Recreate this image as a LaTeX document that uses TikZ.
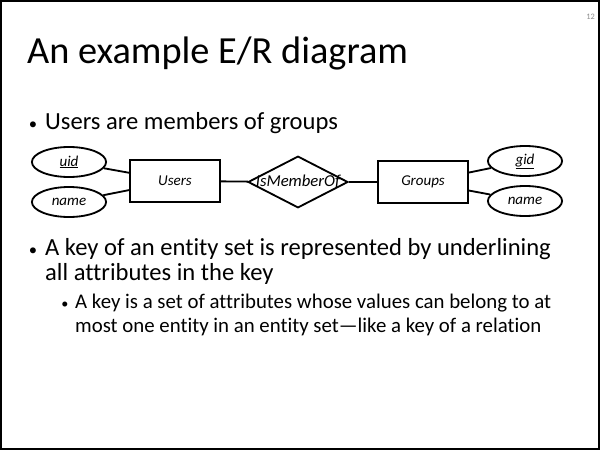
\documentclass[tikz,border=0pt]{standalone}
\usepackage{fontspec}
\setmainfont{Carlito}[Ligatures={TeX,NoCommon}]
\usetikzlibrary{shapes.geometric}
\usetikzlibrary{positioning}

\tikzset{
  attr/.style={draw, ellipse, line width=2.2pt, minimum width=89pt, minimum height=36pt, inner sep=0pt, font=\fontsize{18}{20}\selectfont\itshape},
  entity/.style={draw, rectangle, line width=2.2pt, minimum width=108pt, minimum height=50pt, font=\fontsize{18}{20}\selectfont\itshape},
  relation/.style={draw, diamond, line width=2.2pt, minimum width=120pt, minimum height=62pt, inner sep=0pt},
  link/.style={line width=2.2pt},
  bodytext/.style={anchor=base west, inner sep=0pt, font=\fontsize{29.5}{35}\selectfont},
  subtext/.style={anchor=base west, inner sep=0pt, font=\fontsize{25}{30}\selectfont},
  dot/.style={anchor=base, inner sep=0pt, font=\fontsize{20}{24}\selectfont},
}

\begin{document}
\begin{tikzpicture}[x=1.2pt, y=-1.2pt]

\useasboundingbox (0,0) rectangle (600,450);
\draw[line width=2.4pt] (1,1) rectangle (599,449);

% page number and title
\node[anchor=base east, inner sep=0pt, font=\fontsize{10}{12}\selectfont, text=black!45] (pageno) at (595,20) {12};
\node[anchor=base west, inner sep=0pt, font=\fontsize{46}{55}\selectfont] (title) at (27,64) {An example E/R diagram};

% first bullet
\node[dot] (dotA) at (33,129) {•};
\node[bodytext] (lineA) at (45,129) {Users are members of groups};

% E/R diagram
\node[entity] (users) at (175,181) {Users};
\node[relation, label={[font=\fontsize{20}{22}\selectfont\itshape]center:IsMemberOf}] (member) at (298,182) {};
\node[entity] (groups) at (423,182) {Groups};

\node[attr] (uid) at (69,162) {\underline{uid}};
\node[attr] (uname) at (69,202) {name};
\node[attr] (gid) at (525,161) {\underline{gid}};
\node[attr] (gname) at (525,201) {name};

\draw[link] (uid) -- (users);
\draw[link] (uname) -- (users);
\draw[link] (users) -- (member);
\draw[link] (member) -- (groups);
\draw[link] (groups) -- (gid);
\draw[link] (groups) -- (gname);

% second bullet
\node[dot] (dotB) at (33,255) {•};
\node[bodytext] (lineB1) at (45,255) {A key of an entity set is represented by underlining};
\node[bodytext] (lineB2) at (45,280) {all attributes in the key};

% sub bullet
\node[dot, font=\fontsize{17}{20}\selectfont] (dotC) at (65,308) {•};
\node[subtext] (lineC1) at (75,308) {A key is a set of attributes whose values can belong to at};
\node[subtext] (lineC2) at (75,332) {most one entity in an entity set—like a key of a relation};

\end{tikzpicture}
\end{document}
